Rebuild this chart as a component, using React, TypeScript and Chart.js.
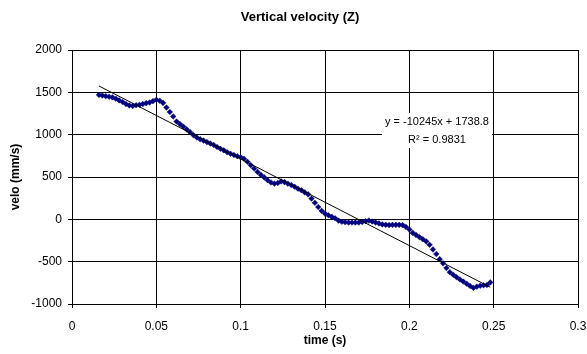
import { useEffect, useRef } from "react";
import { Chart, registerables } from "chart.js";
Chart.register(...registerables);

const timeS = [
  0.016, 0.018, 0.020, 0.022, 0.024, 0.026, 0.028, 0.030, 0.032, 0.034,
  0.036, 0.038, 0.040, 0.042, 0.044, 0.046, 0.048, 0.050, 0.052, 0.054,
  0.056, 0.058, 0.060, 0.062, 0.064, 0.066, 0.068, 0.070, 0.072, 0.074,
  0.076, 0.078, 0.080, 0.082, 0.084, 0.086, 0.088, 0.090, 0.092, 0.094,
  0.096, 0.098, 0.100, 0.102, 0.104, 0.106, 0.108, 0.110, 0.112, 0.114,
  0.116, 0.118, 0.120, 0.122, 0.124, 0.126, 0.128, 0.130, 0.132, 0.134,
  0.136, 0.138, 0.140, 0.142, 0.144, 0.146, 0.148, 0.150, 0.152, 0.154,
  0.156, 0.158, 0.160, 0.162, 0.164, 0.166, 0.168, 0.170, 0.172, 0.174,
  0.176, 0.178, 0.180, 0.182, 0.184, 0.186, 0.188, 0.190, 0.192, 0.194,
  0.196, 0.198, 0.200, 0.202, 0.204, 0.206, 0.208, 0.210, 0.212, 0.214,
  0.216, 0.218, 0.220, 0.222, 0.224, 0.226, 0.228, 0.230, 0.232, 0.234,
  0.236, 0.238, 0.240, 0.242, 0.244, 0.246, 0.248,
];

const veloMmS = [
  1470, 1462, 1455, 1448, 1440, 1425, 1405, 1385, 1362, 1345,
  1340, 1348, 1352, 1362, 1372, 1380, 1396, 1412, 1400, 1375,
  1320, 1268, 1215, 1155, 1125, 1095, 1062, 1030, 995, 968,
  945, 930, 912, 895, 878, 855, 833, 815, 793, 775,
  760, 745, 733, 715, 680, 640, 600, 560, 525, 495,
  462, 435, 422, 430, 448, 440, 420, 405, 385, 362,
  343, 318, 295, 245, 195, 145, 100, 68, 48, 30,
  12, -15, -28, -35, -38, -38, -38, -38, -32, -22,
  -15, -25, -38, -48, -60, -65, -68, -66, -65, -65,
  -68, -90, -120, -160, -185, -210, -235, -260, -300, -355,
  -410, -470, -520, -575, -625, -655, -683, -710, -735, -760,
  -787, -810, -795, -785, -778, -775, -745,
];

const TREND_SLOPE = -10245;
const TREND_INTERCEPT = 1738.8;
const TREND_EQUATION = "y = -10245x + 1738.8";
const TREND_R2 = "R² = 0.9831";

const TITLE = "Vertical velocity (Z)";
const X_TITLE = "time (s)";
const Y_TITLE = "velo (mm/s)";

const X_MIN = 0, X_MAX = 0.3, X_STEP = 0.05;
const Y_MIN = -1000, Y_MAX = 2000, Y_STEP = 500;

const FONT = '"Liberation Sans", Arial, sans-serif';

const textPlugin = {
  id: "texts",
  afterDraw(chart: any) {
    const { ctx, chartArea } = chart;
    ctx.save();
    ctx.fillStyle = "#000";
    ctx.textAlign = "center";
    ctx.textBaseline = "middle";
    ctx.font = `bold 13px ${FONT}`;
    ctx.fillText(TITLE, 300, 17);
    ctx.font = `bold 12px ${FONT}`;
    ctx.fillText(X_TITLE, (chartArea.left + chartArea.right) / 2, 341);
    ctx.save();
    ctx.translate(16, (chartArea.top + chartArea.bottom) / 2);
    ctx.rotate(-Math.PI / 2);
    ctx.fillText(Y_TITLE, 0, 0);
    ctx.restore();

    // trendline label
    ctx.font = `11px ${FONT}`;
    const cx = 437;
    const w1 = ctx.measureText(TREND_EQUATION).width;
    const w2 = ctx.measureText(TREND_R2).width;
    const w = Math.max(w1, w2);
    ctx.fillStyle = "#fff";
    ctx.fillRect(cx - w / 2 - 3, 113, w + 6, 35);
    ctx.fillStyle = "#000";
    ctx.fillText(TREND_EQUATION, cx, 122);
    ctx.fillText(TREND_R2, cx, 140);
    ctx.restore();
  },
};

export default function App() {
  const ref = useRef<HTMLCanvasElement>(null);
  useEffect(() => {
    const canvas = ref.current!;
    const points = timeS.map((t, i) => ({ x: t, y: veloMmS[i] }));
    const t0 = timeS[0];
    const t1 = timeS[timeS.length - 1];
    const trend = [
      { x: t0, y: TREND_SLOPE * t0 + TREND_INTERCEPT },
      { x: t1, y: TREND_SLOPE * t1 + TREND_INTERCEPT },
    ];
    const chart = new Chart(canvas, {
      type: "scatter",
      data: {
        datasets: [
          {
            label: "velo",
            data: points,
            pointStyle: "rectRot",
            pointRadius: 2.8,
            pointBackgroundColor: "#000080",
            pointBorderColor: "#000080",
            pointBorderWidth: 0.5,
            showLine: false,
            order: 2,
          },
          {
            label: "trend",
            data: trend,
            showLine: true,
            borderColor: "#000",
            borderWidth: 1,
            pointRadius: 0,
            order: 1,
          } as any,
        ],
      },
      options: {
        responsive: false,
        animation: false,
        devicePixelRatio: 1,
        layout: { padding: { top: 50, right: 9, left: 0, bottom: 0 } },
        plugins: {
          legend: { display: false },
          title: { display: false },
          tooltip: { enabled: false },
        },
        scales: {
          x: {
            type: "linear",
            min: X_MIN,
            max: X_MAX,
            ticks: {
              stepSize: X_STEP,
              color: "#000",
              font: { family: FONT, size: 12 },
              padding: 11,
              maxRotation: 0,
              callback: (v: any) => String(+Number(v).toFixed(2)),
            },
            grid: { color: "#000", lineWidth: 1, tickLength: 4, tickColor: "#000" },
            border: { color: "#000", width: 1 },
            afterFit: (s: any) => { s.height = 50; s.paddingLeft = 0; s.paddingRight = 0; },
          },
          y: {
            type: "linear",
            min: Y_MIN,
            max: Y_MAX,
            ticks: {
              stepSize: Y_STEP,
              color: "#000",
              font: { family: FONT, size: 12 },
              padding: 6,
              callback: (v: any) => String(v),
            },
            grid: { color: "#000", lineWidth: 1, tickLength: 4, tickColor: "#000" },
            border: { color: "#000", width: 1 },
            afterFit: (s: any) => { s.width = 72; s.paddingTop = 0; s.paddingBottom = 0; },
          },
        },
      },
      plugins: [textPlugin],
    });
    return () => chart.destroy();
  }, []);
  return (
    <div style={{ position: "absolute", left: 0, top: 0, width: 587, height: 354, background: "#fff" }}>
      <canvas ref={ref} width={587} height={354} style={{ display: "block" }} />
    </div>
  );
}
